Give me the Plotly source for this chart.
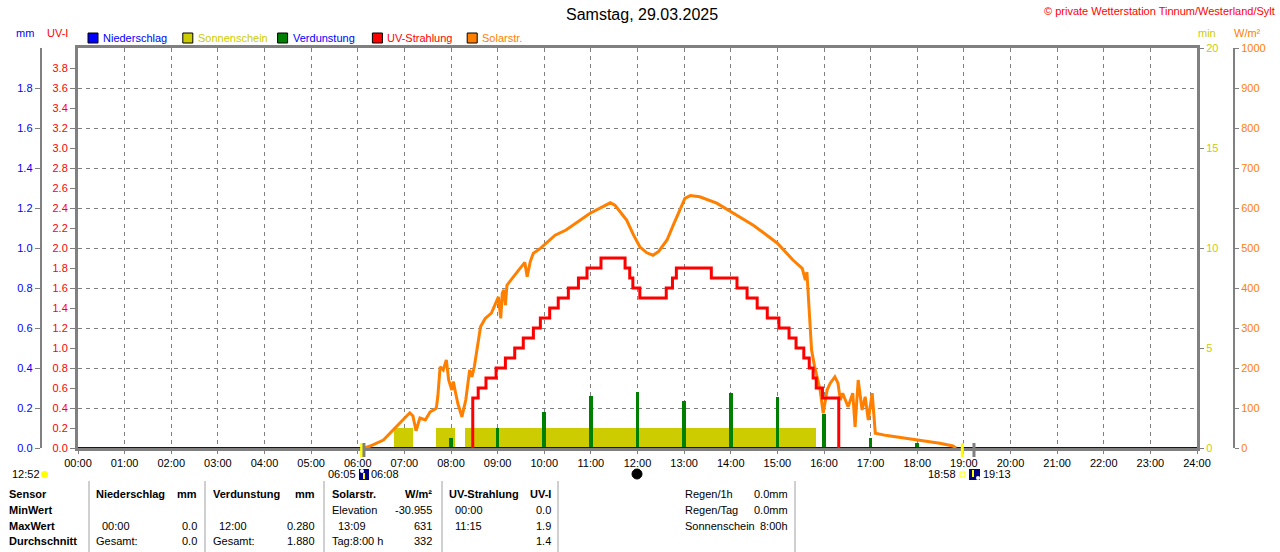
import plotly.graph_objects as go

# ---------------- data ----------------
hour_ticks = list(range(25))
hour_labels = ["%02d:00" % h for h in hour_ticks]

# sunshine (min per minute slot), drawn as blocks
sun_start = ["06:46", "07:41", "08:18"]
sun_end = ["07:11", "08:05", "15:50"]
sun_minutes = [1.0, 1.0, 1.0]

# evaporation (mm)
evap_time = ["08:00", "09:00", "10:00", "11:00", "12:00", "13:00",
             "14:00", "15:00", "16:00", "17:00", "18:00"]
evap_mm = [0.05, 0.10, 0.18, 0.26, 0.28, 0.235, 0.275, 0.255, 0.17, 0.05, 0.025]

# precipitation (mm)
rain_time = ["00:00", "06:00", "12:00", "18:00", "24:00"]
rain_mm = [0.0, 0.0, 0.0, 0.0, 0.0]

# solar radiation (W/m2)
solar_time = ["06:09", "06:16", "06:33", "06:45", "06:58", "07:07", "07:11", "07:15",
              "07:20", "07:27", "07:33", "07:41", "07:43", "07:46", "07:50", "07:54",
              "07:57", "08:01", "08:03", "08:06", "08:09", "08:14", "08:19", "08:24",
              "08:27", "08:30", "08:34", "08:38", "08:44", "08:52", "09:01", "09:04",
              "09:06", "09:08", "09:10", "09:12", "09:22", "09:31", "09:35", "09:38",
              "09:42", "09:46", "09:55", "10:14", "10:28", "10:59", "11:12", "11:25",
              "11:31", "11:37", "11:46", "11:55", "12:03", "12:12", "12:20", "12:27",
              "12:38", "12:46", "12:55", "13:01", "13:08", "13:20", "13:42", "14:03",
              "14:29", "15:00", "15:20", "15:32", "15:36", "15:38", "15:42", "15:44",
              "15:48", "15:55", "15:59", "16:04", "16:08", "16:14", "16:18", "16:21",
              "16:24", "16:31", "16:37", "16:40", "16:44", "16:49", "16:53", "16:57",
              "17:02", "17:06", "17:21", "18:00", "18:29", "18:46", "18:50"]
solar_wm2 = [0, 5, 20, 45, 70, 88, 80, 43,
             75, 70, 90, 99, 128, 203, 195, 220,
             170, 145, 166, 137, 110, 78, 120, 195,
             178, 203, 253, 303, 324, 337, 378, 324,
             387, 395, 357, 407, 432, 453, 464, 428,
             466, 487, 499, 532, 545, 587, 599, 613,
             607, 591, 570, 532, 503, 488, 482, 491,
             520, 557, 599, 624, 631, 628, 612, 587,
             557, 512, 470, 449, 420, 440, 320, 245,
             203, 145, 87, 145, 162, 178, 162, 120,
             137, 103, 137, 53, 170, 95, 128, 70,
             137, 37, 31, 20, 12, 5, 0]

# UV index (step line)
uv_time = ["08:27", "08:28", "08:35", "08:45", "08:58", "09:10", "09:22", "09:33",
           "09:46", "09:55", "10:07", "10:18", "10:31", "10:44", "10:55", "11:13",
           "11:44", "11:50", "11:54", "12:03", "12:37", "12:45", "12:50", "13:35",
           "14:08", "14:21", "14:34", "14:47", "15:02", "15:15", "15:24", "15:34",
           "15:41", "15:46", "15:50", "15:58", "16:19"]
uv_index = [0.0, 0.5, 0.6, 0.7, 0.8, 0.9, 1.0, 1.1,
            1.2, 1.3, 1.4, 1.5, 1.6, 1.7, 1.8, 1.9,
            1.8, 1.7, 1.6, 1.5, 1.6, 1.7, 1.8, 1.7,
            1.6, 1.5, 1.4, 1.3, 1.2, 1.1, 1.0, 0.9,
            0.8, 0.7, 0.6, 0.5, 0.0]

sunrise_marks = ["06:05", "06:08"]
sunset_marks = ["18:58", "19:13"]

uv_ticks = [round(i * 0.2, 1) for i in range(20)]
mm_ticks = [round(i * 0.2, 1) for i in range(10)]
min_ticks = [0, 5, 10, 15, 20]
wm2_ticks = list(range(0, 1001, 100))

legend_names = ["Niederschlag", "Sonnenschein", "Verdunstung", "UV-Strahlung", "Solarstr."]
legend_fill = ["#0000ff", "#cccc00", "#008000", "#ff0000", "#ff8000"]
legend_font = ["#0000ff", "#cccc00", "#0000ff", "#ff0000", "#ff8000"]

table_rows = [
    ["Sensor", "Niederschlag", "mm", "Verdunstung", "mm", "Solarstr.", "W/m²", "UV-Strahlung", "UV-I"],
    ["MinWert", "", "", "", "", "Elevation", "-30.955", "00:00", "0.0"],
    ["MaxWert", "00:00", "0.0", "12:00", "0.280", "13:09", "631", "11:15", "1.9"],
    ["Durchschnitt", "Gesamt:", "0.0", "Gesamt:", "1.880", "Tag:8:00 h", "332", "", "1.4"],
]
side_rows = [["Regen/1h", "0.0mm"], ["Regen/Tag", "0.0mm"], ["Sonnenschein", "8:00h"]]

# ---------------- layout helpers ----------------
W, H = 1280, 552
ML, MR, MT, MB = 10, 10, 48, 104
FONT = "Liberation Sans, Arial, sans-serif"
FS = 11
GRID = "#808080"


def hours(hhmm):
    h, m = hhmm.split(":")
    return int(h) + int(m) / 60.0


def px(x):
    return (x - ML) / (W - ML - MR)


def py(y):
    return (H - MB - y) / (H - MT - MB)


annotations = []
shapes = []


def txt(x, y, s, color="black", anchor="left", size=FS, bold=False):
    if bold:
        s = "<b>%s</b>" % s
    annotations.append(dict(x=px(x), y=py(y), xref="paper", yref="paper", text=s,
                            showarrow=False, xanchor=anchor, yanchor="middle",
                            borderpad=0, font=dict(family=FONT, size=size, color=color)))


def box(x0, x1, y0, y1, fill, line_color=None, kind="rect"):
    shapes.append(dict(type=kind, xref="paper", yref="paper", x0=px(x0), x1=px(x1),
                       y0=py(y1), y1=py(y0), fillcolor=fill,
                       line=dict(color=line_color or fill, width=1 if line_color else 0)))


def seg(x0, y0, x1, y1, color, width=1):
    shapes.append(dict(type="line", xref="paper", yref="paper", x0=px(x0), x1=px(x1),
                       y0=py(y0), y1=py(y1), line=dict(color=color, width=width)))


fig = go.Figure()

sun_x = [(hours(a) + hours(b)) / 2 for a, b in zip(sun_start, sun_end)]
sun_w = [hours(b) - hours(a) for a, b in zip(sun_start, sun_end)]
fig.add_trace(go.Bar(x=sun_x, y=sun_minutes, width=sun_w, yaxis="y",
                     marker=dict(color="#cccc00", line=dict(width=0))))

fig.add_trace(go.Bar(x=[hours(t) for t in evap_time], y=evap_mm, width=0.08, yaxis="y2",
                     marker=dict(color="#008000", line=dict(width=0))))

fig.add_trace(go.Scatter(x=[hours(t) for t in rain_time], y=rain_mm, yaxis="y2",
                         mode="lines", line=dict(color="#0000cc", width=2)))

fig.add_trace(go.Scatter(x=[hours(t) for t in solar_time], y=solar_wm2, yaxis="y3",
                         mode="lines", line=dict(color="#ff8000", width=3)))

fig.add_trace(go.Scatter(x=[hours(t) for t in uv_time], y=uv_index, yaxis="y4",
                         mode="lines", line=dict(color="#ff0000", width=3, shape="hv")))

# sunrise / sunset markers at the time axis
for t, c in zip(sunrise_marks + sunset_marks, ["#ffff00", "#808080", "#ffff00", "#808080"]):
    shapes.append(dict(type="line", xref="x", yref="paper", x0=hours(t), x1=hours(t),
                       y0=py(457), y1=py(443), line=dict(color=c, width=3)))

# legend row
for i, (name, fill, fc) in enumerate(zip(legend_names, legend_fill, legend_font)):
    x0 = 88 + i * 94.8
    box(x0, x0 + 10, 33, 43, fill, "black")
    txt(x0 + 14, 38, name, color=fc)

txt(15, 33, "mm", color="#0000ff")
txt(46, 33, "UV-I", color="#ff0000")
txt(1197, 33, "min", color="#cccc00")
txt(1233, 33, "W/m²", color="#ff8000")
txt(642, 15, "Samstag, 29.03.2025", anchor="center", size=16)
txt(1276, 11, "© private Wetterstation Tinnum/Westerland/Sylt", color="#ff0000", anchor="right")

# astronomy line below the axis
AY = 474
txt(11, AY, "12:52")
box(41, 48, AY - 3, AY + 4, "#ffff00", kind="circle")
txt(357, AY, sunrise_marks[0], anchor="right")
txt(370, AY, sunrise_marks[1])
box(359, 369, AY - 5, AY + 6, "#000080")
seg(364, AY + 5, 364, AY - 1, "#ffff00", 2)
box(360, 364, AY - 5, AY - 1, "white", kind="circle")
box(632, 642, AY - 5, AY + 5, "black", "black", kind="circle")
txt(957, AY, sunset_marks[0], anchor="right")
txt(982, AY, sunset_marks[1])
box(960, 965, AY - 2, AY + 3, "white", "#ffff00")
box(969, 980, AY - 5, AY + 6, "#000080")
seg(973, AY - 4, 973, AY + 3, "#ffff00", 2)
box(976, 980, AY + 2, AY + 6, "white", kind="circle")

# statistics table
col_x = [8, 95, 198, 212, 316, 331, 433, 448, 552]
col_anchor = ["left", "left", "right", "left", "right", "left", "right", "left", "right"]
row_y = [494, 510, 526, 541]
for r, row in enumerate(table_rows):
    for c, cell in enumerate(row):
        if not cell:
            continue
        x = col_x[c]
        if c in (1, 3, 5, 7) and r > 0 and ":" in cell and not cell.startswith(("Gesamt", "Tag")):
            x += 6
        txt(x, row_y[r], cell, anchor=col_anchor[c], bold=(r == 0 or c == 0))
for r, (label, value) in enumerate(side_rows):
    txt(684, row_y[r], label)
    txt(789, row_y[r], value, anchor="right")
for sx in [89, 205, 324, 442, 558, 795]:
    seg(sx, 481, sx, 552, "#a0a0a0", 1)

axis_font = dict(family=FONT, size=FS)
fig.update_layout(
    width=W, height=H,
    margin=dict(l=ML, r=MR, t=MT, b=MB, autoexpand=False),
    paper_bgcolor="white", plot_bgcolor="white",
    showlegend=False, barmode="overlay", bargap=0,
    font=axis_font,
    xaxis=dict(domain=[px(78), px(1197)], range=[0, 24], tickvals=hour_ticks,
               ticktext=hour_labels, tickfont=dict(color="black", **axis_font),
               showgrid=True, gridcolor=GRID, griddash="4px,4px", gridwidth=1,
               showline=True, linecolor=GRID, linewidth=3, mirror=True,
               ticks="outside", ticklen=3, tickcolor=GRID, zeroline=False),
    yaxis=dict(range=[0, 20], side="right", anchor="x", tickvals=min_ticks,
               tickfont=dict(color="#cccc00", **axis_font), showgrid=False,
               showline=True, linecolor=GRID, linewidth=3, ticks="outside",
               ticklen=4, tickcolor=GRID, zeroline=False),
    yaxis2=dict(range=[0, 2], overlaying="y", anchor="free", position=px(40.7), side="left",
                tickvals=mm_ticks, ticktext=["%.1f" % v for v in mm_ticks],
                tickfont=dict(color="#0000ff", **axis_font),
                showgrid=True, gridcolor=GRID, griddash="4px,4px", gridwidth=1,
                showline=True, linecolor=GRID, linewidth=2, ticks="outside",
                ticklen=5, tickcolor=GRID, zeroline=False),
    yaxis3=dict(range=[0, 1000], overlaying="y", anchor="free", position=px(1234), side="right",
                tickvals=wm2_ticks, tickfont=dict(color="#ff8000", **axis_font),
                showgrid=False, showline=True, linecolor=GRID, linewidth=2,
                ticks="outside", ticklen=4, tickcolor=GRID, zeroline=False),
    yaxis4=dict(range=[0, 4], overlaying="y", anchor="x", side="left",
                tickvals=uv_ticks, ticktext=["%.1f" % v for v in uv_ticks],
                tickfont=dict(color="#ff0000", **axis_font), showgrid=False,
                showline=True, linecolor=GRID, linewidth=3, ticks="outside",
                ticklen=5, tickcolor=GRID, zeroline=False),
    annotations=annotations,
    shapes=shapes,
)

fig.write_html("out.html", config={"displayModeBar": False},
               post_script="document.body.style.margin='0';document.body.style.overflow='hidden';")
